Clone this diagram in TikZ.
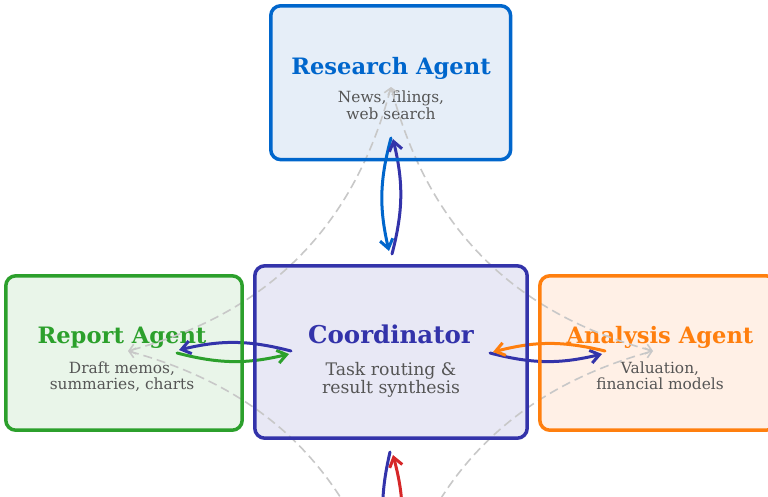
\documentclass[tikz,border=0pt]{standalone}
\usepackage{fontspec}
\setmainfont{DejaVu Serif}
\usetikzlibrary{arrows.meta}
\definecolor{cR}{HTML}{0066CC}
\definecolor{cRf}{HTML}{E6EEF8}
\definecolor{cC}{HTML}{3333AA}
\definecolor{cCf}{HTML}{E8E8F5}
\definecolor{cG}{HTML}{2CA02C}
\definecolor{cGf}{HTML}{E9F5E9}
\definecolor{cO}{HTML}{FF7F0E}
\definecolor{cOf}{HTML}{FFF0E6}
\definecolor{cRed}{HTML}{D62728}
\definecolor{txt}{HTML}{555555}
\definecolor{dashc}{HTML}{C8C8C8}
\begin{document}
\begin{tikzpicture}[x=1pt,y=-1pt,
 boxfill/.style={rectangle, rounded corners=10pt, inner sep=0pt},
 boxline/.style={line width=3.5pt, rounded corners=10pt},
 ttl/.style={font=\bfseries\fontsize{22.6}{26}\selectfont, inner sep=0pt, anchor=base},
 bigttl/.style={font=\bfseries\fontsize{24.5}{28}\selectfont, inner sep=0pt, anchor=base},
 sub/.style={font=\fontsize{15.4}{17.5}\selectfont, text=txt, inner sep=0pt, anchor=base},
 bigsub/.style={font=\fontsize{17.3}{19}\selectfont, text=txt, inner sep=0pt, anchor=base},
 flow/.style={line width=3pt, -{Straight Barb[length=9pt,width=13pt]}, line cap=round, line join=round},
 peer/.style={draw=dashc, line width=1.6pt, dash pattern=on 9pt off 5pt,
   {Straight Barb[length=6pt,width=10pt]}-{Straight Barb[length=6pt,width=10pt]}},
]
\clip (0,0) rectangle (768,496);
\fill[white] (0,0) rectangle (768,496);
% box fills
\node[boxfill, fill=cRf, minimum width=239.5pt, minimum height=153.5pt] (R) at (390.7,82.7) {};
\node[boxfill, fill=cCf, minimum width=272pt, minimum height=172pt] (C) at (391,352) {};
\node[boxfill, fill=cGf, minimum width=236pt, minimum height=154pt] (L) at (124,353) {};
\node[boxfill, fill=cOf, minimum width=236pt, minimum height=154pt] (A) at (658,353) {};
% texts
\node[ttl, text=cR] (Rt) at (391,74) {Research Agent};
\node[sub] (Rs1) at (391,102) {News, filings,};
\node[sub] (Rs2) at (391,119.5) {web search};
\node[bigttl, text=cC] (Ct) at (391,343.3) {Coordinator};
\node[bigsub] (Cs1) at (391,375) {Task routing \&};
\node[bigsub] (Cs2) at (391,393.5) {result synthesis};
\node[ttl, text=cG] (Lt) at (122,343.3) {Report Agent};
\node[sub] (Ls1) at (122,373.3) {Draft memos,};
\node[sub] (Ls2) at (122,389.3) {summaries, charts};
\node[ttl, text=cO] (At) at (660,343.3) {Analysis Agent};
\node[sub] (As1) at (660,373.3) {Valuation,};
\node[sub] (As2) at (660,389.3) {financial models};
% endpoints
\coordinate (gR) at (391,87);
\coordinate (gL) at (128,351);
\coordinate (gA) at (653,351);
\coordinate (gB) at (391,617);
\coordinate (r1) at (391,138); \coordinate (c1) at (389,251);
\coordinate (c2) at (392,254); \coordinate (r2) at (393,139);
\coordinate (l1) at (177,353); \coordinate (c3) at (289,354);
\coordinate (c4) at (291,351); \coordinate (l2) at (179,350);
\coordinate (c5) at (490,353); \coordinate (a1) at (602,354);
\coordinate (a2) at (605,351); \coordinate (c6) at (493,352);
\coordinate (c7) at (390,452); \coordinate (b1) at (392,566);
\coordinate (b2) at (395,566); \coordinate (c8) at (393,455);
% colored flows
\draw[flow, cR] (r1) to[bend right=14] (c1);
\draw[flow, cC] (c2) to[bend right=14] (r2);
\draw[flow, cG] (l1) to[bend right=14] (c3);
\draw[flow, cC] (c4) to[bend right=14] (l2);
\draw[flow, cC] (c5) to[bend right=14] (a1);
\draw[flow, cO] (a2) to[bend right=14] (c6);
\draw[flow, cC] (c7) to[bend right=14] (b1);
\draw[flow, cRed] (b2) to[bend right=14] (c8);
% peer arcs
\draw[peer] (gR) to[bend left=30] (gL);
\draw[peer] (gL) to[bend left=30] (gB);
\draw[peer] (gB) to[bend left=30] (gA);
\draw[peer] (gA) to[bend left=30] (gR);
% box borders
\draw[boxline, cR] (R.south west) rectangle (R.north east);
\draw[boxline, cC] (C.south west) rectangle (C.north east);
\draw[boxline, cG] (L.south west) rectangle (L.north east);
\draw[boxline, cO] (A.south west) rectangle (A.north east);
\end{tikzpicture}
\end{document}
